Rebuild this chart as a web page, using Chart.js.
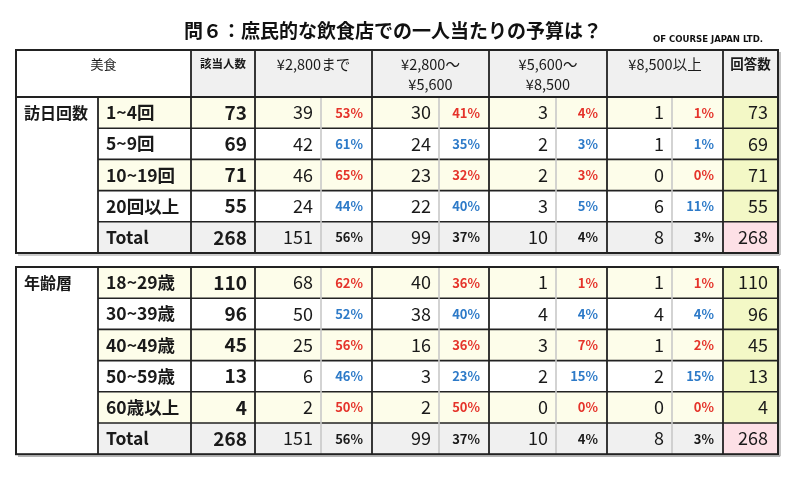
<!DOCTYPE html>
<html>
<head>
<meta charset="utf-8">
<script src="https://cdn.jsdelivr.net/npm/chart.js@4"></script>
<style>
  html, body { margin: 0; padding: 0; background: #fff; }
  #wrap { width: 800px; height: 479px; }
</style>
</head>
<body>
<div id="wrap"><canvas id="myChart"></canvas></div>
<script>
// ---- chart text ----
var titleText = "問６：庶民的な飲食店での一人当たりの予算は？";
var creditText = "OF COURSE JAPAN LTD.";
var headerLabels = [["美食"], ["該当人数"], ["¥2,800まで"], ["¥2,800〜", "¥5,600"], ["¥5,600〜", "¥8,500"], ["¥8,500以上"], ["回答数"]];
var groupNames = ["訪日回数", "年齢層"];

// ---- 訪日回数 ----
var visitLabels = ["1~4回", "5~9回", "10~19回", "20回以上", "Total"];
var visitHighlight = [true, false, true, false, false];
var visitTotals = [73, 69, 71, 55, 268];
var visitUpTo2800 = [39, 42, 46, 24, 151];
var visitUpTo2800Pct = [53, 61, 65, 44, 56];
var visit2800to5600 = [30, 24, 23, 22, 99];
var visit2800to5600Pct = [41, 35, 32, 40, 37];
var visit5600to8500 = [3, 2, 2, 3, 10];
var visit5600to8500Pct = [4, 3, 3, 5, 4];
var visitOver8500 = [1, 1, 0, 6, 8];
var visitOver8500Pct = [1, 1, 0, 11, 3];
var visitAnswers = [73, 69, 71, 55, 268];

// ---- 年齢層 ----
var ageLabels = ["18~29歳", "30~39歳", "40~49歳", "50~59歳", "60歳以上", "Total"];
var ageHighlight = [true, false, true, false, true, false];
var ageTotals = [110, 96, 45, 13, 4, 268];
var ageUpTo2800 = [68, 50, 25, 6, 2, 151];
var ageUpTo2800Pct = [62, 52, 56, 46, 50, 56];
var age2800to5600 = [40, 38, 16, 3, 2, 99];
var age2800to5600Pct = [36, 40, 36, 23, 50, 37];
var age5600to8500 = [1, 4, 3, 2, 0, 10];
var age5600to8500Pct = [1, 4, 7, 15, 0, 4];
var ageOver8500 = [1, 4, 1, 2, 0, 8];
var ageOver8500Pct = [1, 4, 2, 15, 0, 3];
var ageAnswers = [110, 96, 45, 13, 4, 268];

// build the two table blocks from the arrays above
var groups = [
  {
    name: groupNames[0], labels: visitLabels, highlight: visitHighlight, totals: visitTotals,
    bands: [[visitUpTo2800, visitUpTo2800Pct], [visit2800to5600, visit2800to5600Pct],
            [visit5600to8500, visit5600to8500Pct], [visitOver8500, visitOver8500Pct]],
    answers: visitAnswers
  },
  {
    name: groupNames[1], labels: ageLabels, highlight: ageHighlight, totals: ageTotals,
    bands: [[ageUpTo2800, ageUpTo2800Pct], [age2800to5600, age2800to5600Pct],
            [age5600to8500, age5600to8500Pct], [ageOver8500, ageOver8500Pct]],
    answers: ageAnswers
  }
];

// ---- layout (table units on the hidden linear scales) ----
var colEdges = [16, 98, 191, 255, 321, 372, 439, 489, 556, 607, 672, 723, 778];
var headerTop = 50, headerH = 47, rowH = 31.2;
var groupTops = [headerTop + headerH, 267];

var JP = '"Noto Sans CJK JP", "Noto Sans", sans-serif';
var colors = {
  line: "#222", light: "#c8c8c8", gray: "#f0f0f0", yellow: "#fdfdea",
  answer: "#f3f8c6", pink: "#fde0e6", red: "#e5332a", blue: "#2d7ac8", text: "#1a1a1a"
};

var tablePlugin = {
  id: "tablePlugin",
  afterDraw: function (chart) {
    var ctx = chart.ctx;
    var xs = chart.scales.x, ys = chart.scales.y;
    function px(v) { return xs.getPixelForValue(v); }
    function py(v) { return ys.getPixelForValue(v); }
    function fillCell(x0, y0, x1, y1, c) {
      ctx.fillStyle = c;
      ctx.fillRect(px(x0), py(y0), px(x1) - px(x0), py(y1) - py(y0));
    }
    function hLine(x0, x1, y, c, w) {
      ctx.strokeStyle = c; ctx.lineWidth = w;
      ctx.beginPath(); ctx.moveTo(px(x0), py(y)); ctx.lineTo(px(x1), py(y)); ctx.stroke();
    }
    function vLine(x, y0, y1, c, w) {
      ctx.strokeStyle = c; ctx.lineWidth = w;
      ctx.beginPath(); ctx.moveTo(px(x), py(y0)); ctx.lineTo(px(x), py(y1)); ctx.stroke();
    }
    function text(s, x, y, font, color, align) {
      ctx.font = font; ctx.fillStyle = color; ctx.textAlign = align || "left";
      ctx.textBaseline = "middle";
      ctx.fillText(s, px(x), py(y));
    }
    var L = colEdges[0], R = colEdges[colEdges.length - 1];

    ctx.save();
    // title
    text(titleText, 393, 31, "bold 19px " + JP, "#111", "center");
    ctx.save();
    ctx.font = 'bold 9.5px "Liberation Sans Narrow", "DejaVu Sans Condensed", sans-serif';
    ctx.fillStyle = "#111"; ctx.textAlign = "right"; ctx.textBaseline = "middle";
    ctx.fillText(creditText, px(763), py(40));
    ctx.restore();

    // header
    var hb = headerTop + headerH;
    fillCell(colEdges[2], headerTop, R, hb, colors.gray);
    var hCols = [[colEdges[0], colEdges[2]], [colEdges[2], colEdges[3]], [colEdges[3], colEdges[5]],
                 [colEdges[5], colEdges[7]], [colEdges[7], colEdges[9]], [colEdges[9], colEdges[11]],
                 [colEdges[11], colEdges[12]]];
    var hSizes = [13, 11.5, 14.5, 14.5, 14.5, 14.5, 13.5];
    headerLabels.forEach(function (lines, i) {
      var cx = (hCols[i][0] + hCols[i][1]) / 2;
      lines.forEach(function (ln, k) {
        text(ln, cx, 64 + k * 20, (i === 1 || i === 6 ? "bold " : "") + hSizes[i] + "px " + JP, colors.text, "center");
      });
    });

    groups.forEach(function (g, gi) {
      var top = groupTops[gi];
      var tTop = gi === 0 ? headerTop : top;
      var n = g.labels.length;
      var bottom = top + n * rowH;

      for (var r = 0; r < n; r++) {
        var y0 = top + r * rowH, y1 = y0 + rowH, yc = (y0 + y1) / 2;
        var isTotal = r === n - 1;
        var bg = isTotal ? colors.gray : (g.highlight[r] ? colors.yellow : "#fff");
        fillCell(colEdges[1], y0, colEdges[11], y1, bg);
        fillCell(colEdges[11], y0, R, y1, isTotal ? colors.pink : colors.answer);

        text(g.labels[r], colEdges[1] + 8, yc, "bold 17.5px " + JP, colors.text, "left");
        text(String(g.totals[r]), colEdges[3] - 8, yc, "bold 19px " + JP, colors.text, "right");
        var pctColor = isTotal ? colors.text : (g.highlight[r] ? colors.red : colors.blue);
        g.bands.forEach(function (b, bi) {
          var c0 = 3 + bi * 2;
          text(String(b[0][r]), colEdges[c0 + 1] - 8, yc, "18px " + JP, colors.text, "right");
          text(b[1][r] + "%", colEdges[c0 + 2] - 9, yc, "bold 13px " + JP, pctColor, "right");
        });
        text(String(g.answers[r]), R - 10, yc, "18px " + JP, colors.text, "right");
        if (r > 0) hLine(colEdges[1], R, y0, colors.line, 1.6);
      }
      text(g.name, L + 8, top + rowH / 2, "bold 16px " + JP, colors.text, "left");

      // light separators between count and share
      [4, 6, 8, 10].forEach(function (c) { vLine(colEdges[c], top, bottom, colors.light, 1.6); });
      // dark column lines
      [1, 2, 3, 5, 7, 9, 11].forEach(function (c) {
        vLine(colEdges[c], c === 1 ? top : tTop, bottom, colors.line, 1.8);
      });
      if (gi === 0) hLine(L, R, top, colors.line, 1.8);
      // shadow and outer box
      hLine(L + 2, R + 2, bottom + 2, "#9a9a9a", 1.2);
      vLine(R + 2, tTop + 2, bottom + 2, "#9a9a9a", 1.2);
      ctx.strokeStyle = colors.line; ctx.lineWidth = 2;
      ctx.strokeRect(px(L), py(tTop), px(R) - px(L), py(bottom) - py(tTop));
    });
    ctx.restore();
  }
};

var chart = new Chart("myChart", {
  type: "scatter",
  data: { datasets: [] },
  options: {
    responsive: true,
    maintainAspectRatio: false,
    animation: false,
    layout: { padding: 0 },
    plugins: { legend: { display: false }, tooltip: { enabled: false } },
    scales: {
      x: { type: "linear", min: 0, max: 800, display: false },
      y: { type: "linear", min: 0, max: 479, reverse: true, display: false }
    }
  },
  plugins: [tablePlugin]
});
</script>
</body>
</html>
